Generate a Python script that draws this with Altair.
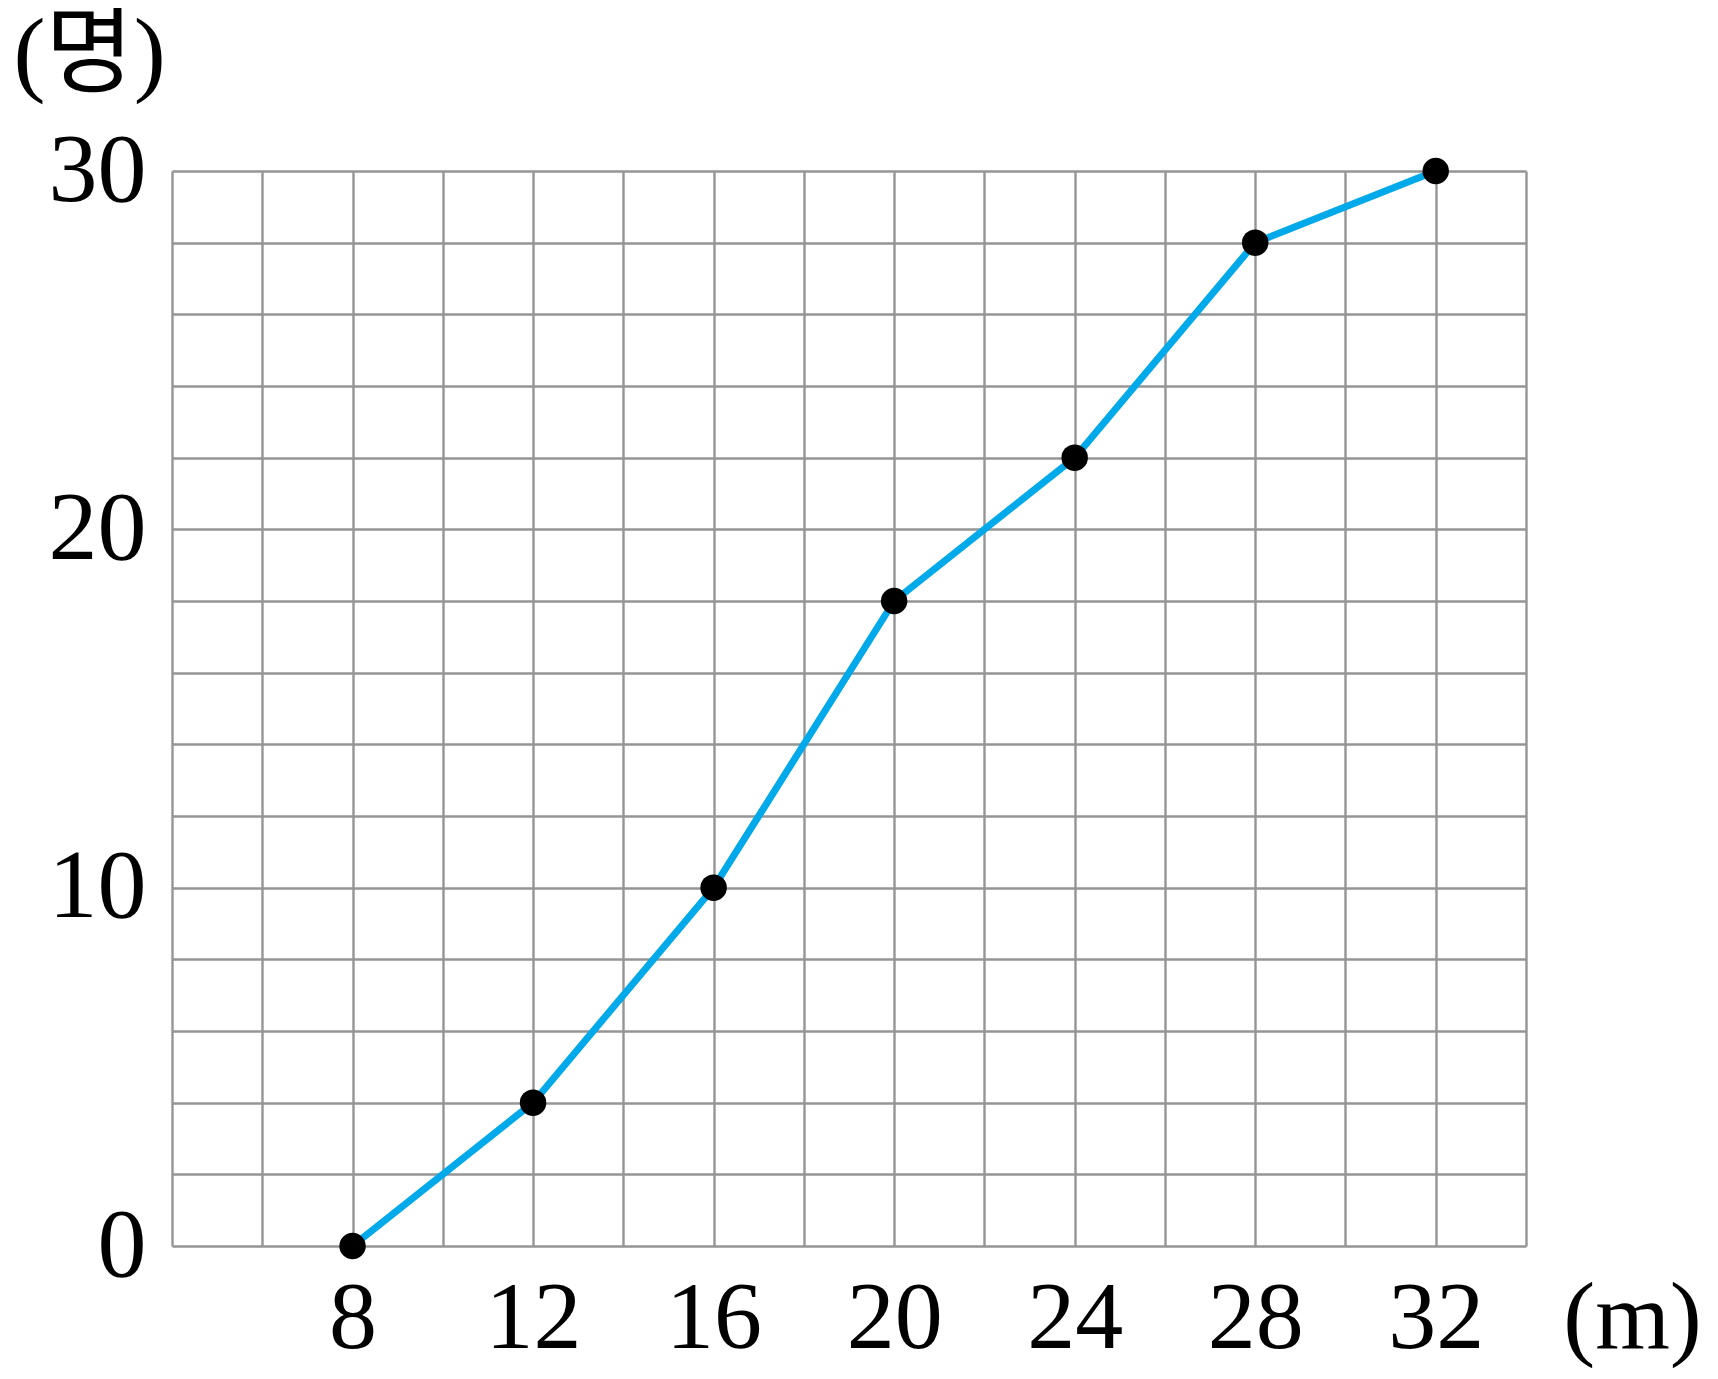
import altair as alt
import pandas as pd

distance = [8, 12, 16, 20, 24, 28, 32]
cumulative = [0, 4, 10, 18, 22, 28, 30]

x_grid = list(range(4, 35, 2))
y_grid = list(range(0, 31, 2))

df = pd.DataFrame({"x": distance, "y": cumulative})

FONT = "Liberation Serif, Noto Sans CJK KR"

x_enc = alt.X(
    "x:Q",
    scale=alt.Scale(domain=[4, 34], nice=False, zero=False),
    axis=alt.Axis(
        values=x_grid,
        labelExpr="(datum.value % 4 == 0 && datum.value >= 8 && datum.value <= 32) ? datum.label : ''",
        grid=True, gridColor="#959595", gridWidth=2.4, gridOpacity=1,
        ticks=False, tickSize=0, domain=False,
        labelFont=FONT, labelFontSize=96, labelColor="black",
        labelPadding=25, labelBaseline="top", labelAlign="center",
        labelFlush=False, labelOverlap=False,
        title="(m)", titleFont=FONT, titleFontSize=96, titleFontWeight="normal",
        titleColor="black", titleAngle=0, titleAlign="center", titleBaseline="top",
        titleX=1460, titleY=25,
    ),
)

y_enc = alt.Y(
    "y:Q",
    scale=alt.Scale(domain=[0, 30], nice=False, zero=True),
    axis=alt.Axis(
        values=y_grid,
        labelExpr="(datum.value % 10 == 0) ? datum.label : ''",
        grid=True, gridColor="#959595", gridWidth=2.4, gridOpacity=1,
        ticks=False, tickSize=0, domain=False,
        labelFont=FONT, labelFontSize=98, labelColor="black",
        labelPadding=26, labelBaseline="middle", labelAlign="right",
        labelFlush=False, labelOverlap=False,
        title="(명)", titleFont=FONT, titleFontSize=96, titleFontWeight="normal",
        titleColor="black", titleAngle=0, titleAlign="center", titleBaseline="middle",
        titleX=-83, titleY=-117,
    ),
)

line = alt.Chart(df).mark_line(color="#00A9E9", strokeWidth=7).encode(x=x_enc, y=y_enc)
pts = alt.Chart(df).mark_circle(color="black", size=700, opacity=1).encode(x="x:Q", y="y:Q")

chart = (line + pts).properties(
    width=1354, height=1075,
    autosize=alt.AutoSizeParams(type="none"),
    padding={"left": 164, "top": 163, "right": 182, "bottom": 125},
).configure_view(stroke=None)

chart.save("out.html", embed_options={"renderer": "svg", "actions": False})
